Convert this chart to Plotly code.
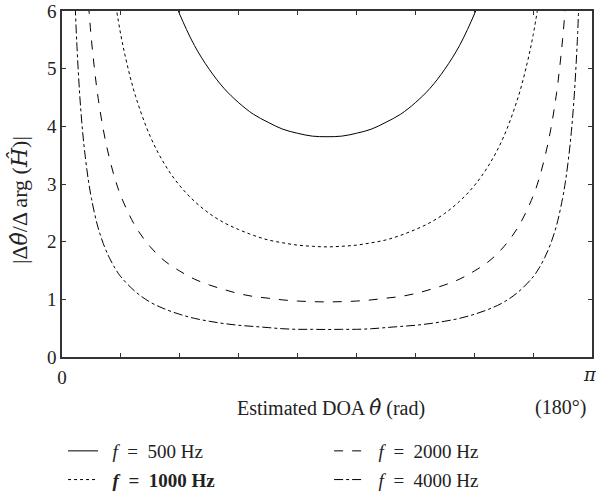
import plotly.graph_objects as go

# Estimated DOA (degrees) and |dtheta/d arg(H)|
theta_500 = [38, 40, 45, 50, 55, 60, 65, 70, 75, 80, 85, 90, 95, 100, 105, 110, 115, 120, 125, 130, 135, 140, 142]
val_500 = [6.20, 5.94, 5.40, 4.99, 4.66, 4.41, 4.21, 4.07, 3.95, 3.88, 3.83, 3.82, 3.83, 3.88, 3.95, 4.07, 4.21, 4.41, 4.66, 4.99, 5.40, 5.94, 6.20]

theta_1000 = [18, 20, 22, 25, 30, 35, 40, 45, 50, 55, 60, 65, 70, 75, 80, 85, 90,
              95, 100, 105, 110, 115, 120, 125, 130, 135, 140, 145, 150, 155, 158, 160, 162]
val_1000 = [6.18, 5.58, 5.10, 4.52, 3.82, 3.33, 2.97, 2.70, 2.49, 2.33, 2.21, 2.11, 2.03, 1.98, 1.94, 1.92, 1.91,
            1.92, 1.94, 1.98, 2.03, 2.11, 2.21, 2.33, 2.49, 2.70, 2.97, 3.33, 3.82, 4.52, 5.10, 5.58, 6.18]

theta_2000 = [9, 10, 11, 12, 14, 16, 18, 20, 25, 30, 35, 40, 45, 50, 55, 60, 65, 70, 75, 80, 85, 90,
              95, 100, 105, 110, 115, 120, 125, 130, 135, 140, 145, 150, 155, 160, 162, 164, 166, 168, 169, 170, 171]
val_2000 = [6.11, 5.50, 5.01, 4.59, 3.95, 3.47, 3.09, 2.79, 2.26, 1.91, 1.66, 1.49, 1.35, 1.25, 1.17, 1.10, 1.05, 1.02, 0.99, 0.97, 0.96, 0.955,
            0.96, 0.97, 0.99, 1.02, 1.05, 1.10, 1.17, 1.25, 1.35, 1.49, 1.66, 1.91, 2.26, 2.79, 3.09, 3.47, 3.95, 4.59, 5.01, 5.50, 6.11]

theta_4000 = [4.5, 5, 6, 7, 8, 9, 10, 12, 14, 16, 18, 20, 25, 30, 35, 40, 45, 50, 55, 60, 65, 70, 75, 80, 85, 90,
              95, 100, 105, 110, 115, 120, 125, 130, 135, 140, 145, 150, 155, 160, 162, 164, 166, 168, 170, 171, 172, 173, 174, 175, 175.5]
val_4000 = [6.08, 5.47, 4.56, 3.91, 3.43, 3.05, 2.75, 2.29, 1.97, 1.73, 1.54, 1.39, 1.13, 0.95, 0.83, 0.74, 0.67, 0.62, 0.58, 0.55, 0.53, 0.51, 0.49, 0.48, 0.48, 0.477,
            0.48, 0.48, 0.49, 0.51, 0.53, 0.55, 0.58, 0.62, 0.67, 0.74, 0.83, 0.95, 1.13, 1.39, 1.54, 1.73, 1.97, 2.29, 2.75, 3.05, 3.43, 3.91, 4.56, 5.47, 6.08]

x_tick_vals = [0, 20, 40, 60, 80, 100, 120, 140, 160, 180]
x_tick_text = ["0", "", "", "", "", "", "", "", "", ""]
y_tick_vals = [0, 1, 2, 3, 4, 5, 6]

FONT = "Liberation Serif"
HAT_FONT = "DejaVu Serif"
EQ = "\u2002=\u2002"
LEAD = "\u2002"

fig = go.Figure()
series = [
    (theta_500, val_500, "solid", f"{LEAD}<i>f</i>{EQ}500 Hz", "legend"),
    (theta_1000, val_1000, "dot", f"{LEAD}<b><i>f</i>{EQ}1000 Hz</b>", "legend"),
    (theta_2000, val_2000, "dash", f"{LEAD}<i>f</i>{EQ}2000 Hz", "legend2"),
    (theta_4000, val_4000, "dashdot", f"{LEAD}<i>f</i>{EQ}4000 Hz", "legend2"),
]
for i, (xs, ys, dash, name, lg) in enumerate(series):
    fig.add_trace(go.Scatter(x=xs, y=ys, mode="lines", name=name, legend=lg, legendgroup=f"g{i}",
                             line=dict(color="black", width=1, dash=dash, shape="spline")))

axis_common = dict(showline=True, linecolor="#333333", linewidth=1.5, mirror="ticks",
                   ticks="inside", ticklen=4, tickcolor="#333333", showgrid=False, zeroline=False,
                   tickfont=dict(family=FONT, size=19, color="#222222"))

hat = lambda s: f"<span style=\"font-family:'{HAT_FONT}'\"><i>{s}\u0302</i></span>"

fig.update_layout(
    width=596, height=493,
    margin=dict(l=62, r=4, t=11, b=136, autoexpand=False),
    plot_bgcolor="white", paper_bgcolor="white",
    font=dict(family=FONT, size=19, color="#222222"),
    xaxis=dict(range=[0, 180], tickvals=x_tick_vals, ticktext=x_tick_text, ticklabelstandoff=2,
               **axis_common),
    yaxis=dict(range=[0, 6], tickvals=y_tick_vals, **axis_common),
    legend=dict(x=0.002, y=-0.2168, xanchor="left", yanchor="top", bgcolor="rgba(0,0,0,0)",
                font=dict(family=FONT, size=19), tracegroupgap=1, itemwidth=30),
    legend2=dict(x=0.504, y=-0.2168, xanchor="left", yanchor="top", bgcolor="rgba(0,0,0,0)",
                 font=dict(family=FONT, size=19), tracegroupgap=1, itemwidth=30),
    annotations=[
        dict(text="π", x=0.996, y=-0.052, xref="paper", yref="paper",
             xanchor="center", yanchor="middle", showarrow=False,
             font=dict(family=HAT_FONT, size=18, style="italic")),
        dict(text=f"Estimated DOA {hat('θ')} (rad)", x=0.508, y=-0.147, xref="paper", yref="paper",
             xanchor="center", yanchor="middle", showarrow=False, font=dict(family=FONT, size=20)),
        dict(text="(180°)", x=0.94, y=-0.147, xref="paper", yref="paper",
             xanchor="center", yanchor="middle", showarrow=False, font=dict(family=FONT, size=20)),
        dict(text=f"|Δ{hat('θ')}/Δ arg ({hat('H')})|", x=-0.081, y=0.454, xref="paper", yref="paper",
             xanchor="center", yanchor="middle", textangle=-90, showarrow=False,
             font=dict(family=FONT, size=22)),
    ],
)

fig.write_html("out.html", config={"displayModeBar": False},
               post_script="document.body.style.margin='0';")
